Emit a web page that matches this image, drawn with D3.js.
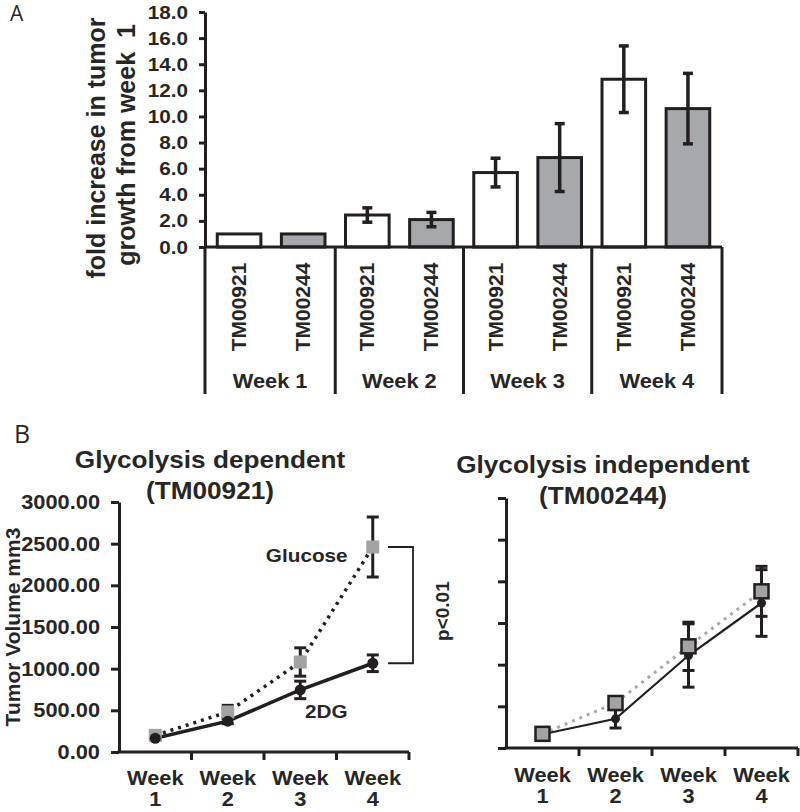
<!DOCTYPE html>
<html>
<head>
<meta charset="utf-8">
<script src="https://cdn.jsdelivr.net/npm/d3@7"></script>
<style>
  html, body { margin: 0; padding: 0; background: #fff; }
  svg { display: block; }
  text { font-family: "Liberation Sans", Arial, sans-serif; fill: #262626; }
</style>
</head>
<body>
<script>
// ---------------- DATA ----------------
const weeks = ["Week 1", "Week 2", "Week 3", "Week 4"];
const tumors = ["TM00921", "TM00244"];
const foldTM00921 = [1.0, 2.45, 5.7, 12.85];
const foldTM00921Err = [0.0, 0.55, 1.1, 2.55];
const foldTM00244 = [1.0, 2.1, 6.85, 10.6];
const foldTM00244Err = [0.0, 0.55, 2.6, 2.7];
const foldTicks = [0, 2, 4, 6, 8, 10, 12, 14, 16, 18];

const weekNums = ["1", "2", "3", "4"];
const volTicks = [0, 500, 1000, 1500, 2000, 2500, 3000];
const depGlucose = [200, 480, 1080, 2460];
const depGlucoseErr = [30, 80, 170, 360];
const dep2DG = [165, 370, 745, 1065];
const dep2DGErr = [20, 30, 105, 100];
const indGlucose = [170, 540, 1220, 1880];
const indGlucoseErr = [20, 60, 290, 300];
const ind2DG = [165, 350, 1110, 1740];
const ind2DGErr = [20, 110, 380, 400];

// ---------------- SETUP ----------------
const INK = "#231f20";
const BAR_GRAY = "#a7a8ab";
const STRETCH = 1.09;
const svg = d3.select("body").append("svg").attr("width", 800).attr("height", 812);
const horizontalTexts = [];

// panel letters
svg.append("text").attr("x", 10).attr("y", 21).style("font-family", "'Open Sans', 'DejaVu Sans', sans-serif")
  .style("font-size", "21px").text("A");
svg.append("text").attr("x", 14).attr("y", 443).style("font-family", "'Open Sans', 'DejaVu Sans', sans-serif")
  .style("font-size", "25px").text("B");

// ---------------- PANEL A ----------------
const bars = [];
weeks.forEach((w, i) => {
  bars.push({ key: w + "|" + tumors[0], week: w, tumor: tumors[0], v: foldTM00921[i], e: foldTM00921Err[i], fill: "#fff" });
  bars.push({ key: w + "|" + tumors[1], week: w, tumor: tumors[1], v: foldTM00244[i], e: foldTM00244Err[i], fill: BAR_GRAY });
});

const axisXA = 205;
const yA = d3.scaleLinear().domain([0, 18]).range([247, 12]);
const xA = d3.scaleBand().domain(bars.map(d => d.key)).range([207, 720]).paddingInner(0.32).paddingOuter(0.16);
const gA = svg.append("g");

// bars
gA.selectAll("rect.bar").data(bars).join("rect").attr("class", "bar")
  .attr("x", d => xA(d.key)).attr("width", xA.bandwidth())
  .attr("y", d => yA(d.v)).attr("height", d => yA(0) - yA(d.v))
  .attr("fill", d => d.fill).attr("stroke", INK).attr("stroke-width", 3);

// error bars
const ebA = gA.selectAll("g.eb").data(bars.filter(d => d.e > 0)).join("g").attr("class", "eb");
ebA.append("line")
  .attr("x1", d => xA(d.key) + xA.bandwidth() / 2).attr("x2", d => xA(d.key) + xA.bandwidth() / 2)
  .attr("y1", d => yA(d.v + d.e)).attr("y2", d => yA(d.v - d.e))
  .attr("stroke", INK).attr("stroke-width", 3.5);
[1, -1].forEach(s => {
  ebA.append("line")
    .attr("x1", d => xA(d.key) + xA.bandwidth() / 2 - 5).attr("x2", d => xA(d.key) + xA.bandwidth() / 2 + 5)
    .attr("y1", d => yA(d.v + s * d.e)).attr("y2", d => yA(d.v + s * d.e))
    .attr("stroke", INK).attr("stroke-width", 3.5);
});

// y axis
const yAxisA = gA.append("g").attr("transform", `translate(${axisXA},0)`)
  .call(d3.axisLeft(yA).tickValues(foldTicks).tickFormat(d3.format(".1f")).tickSize(6).tickSizeOuter(0).tickPadding(11));
yAxisA.select(".domain").attr("stroke", INK).attr("stroke-width", 3);
yAxisA.selectAll(".tick line").attr("stroke", INK).attr("stroke-width", 3);
yAxisA.selectAll(".tick text").style("font-size", "19px").style("font-weight", "bold").attr("fill", "#262626");
horizontalTexts.push(yAxisA.selectAll(".tick text"));

// x axis line
gA.append("line").attr("x1", axisXA).attr("x2", 722).attr("y1", yA(0)).attr("y2", yA(0))
  .attr("stroke", INK).attr("stroke-width", 3);

// group separators
const sepX = d3.range(5).map(i => i === 0 ? axisXA : (i === 4 ? 722 : xA.range()[0] + i * 2 * xA.step()));
gA.selectAll("line.sep").data(sepX).join("line").attr("class", "sep")
  .attr("x1", d => d).attr("x2", d => d).attr("y1", yA(0)).attr("y2", 394)
  .attr("stroke", INK).attr("stroke-width", 3);

// tumor labels (rotated)
gA.selectAll("text.tm").data(bars).join("text").attr("class", "tm")
  .attr("transform", d => `translate(${xA(d.key) + xA.bandwidth() / 2 + 7},307) rotate(-90)`)
  .attr("text-anchor", "middle")
  .style("font-size", "21px").style("font-weight", "bold")
  .text(d => d.tumor);

// week labels
horizontalTexts.push(gA.selectAll("text.wk").data(weeks).join("text").attr("class", "wk")
  .attr("x", (d, i) => (sepX[i] + sepX[i + 1]) / 2).attr("y", 388)
  .attr("text-anchor", "middle").style("font-size", "20px").style("font-weight", "bold")
  .text(d => d));

// y title
const yTitleA = gA.append("text").attr("transform", "translate(105,148) rotate(-90)")
  .attr("text-anchor", "middle").style("font-size", "25px").style("font-weight", "bold").style("white-space", "pre");
yTitleA.append("tspan").attr("x", 0).attr("dy", 0).text("fold increase in tumor");
yTitleA.append("tspan").attr("x", 3).attr("dy", 30).text("growth from week  1");

// ---------------- PANEL B ----------------
function linePanel(cfg) {
  const g = svg.append("g");
  const y = d3.scaleLinear().domain([0, 3000]).range([cfg.y0, cfg.y1]);
  const x = d3.scaleBand().domain(weekNums).range([cfg.x0, cfg.x1]);
  const cx = d => x(d) + x.bandwidth() / 2;

  // axes
  const ya = g.append("g").attr("transform", `translate(${cfg.x0},0)`)
    .call(d3.axisLeft(y).tickValues(volTicks).tickFormat(cfg.labels ? d3.format(".2f") : () => "")
      .tickSize(8).tickSizeOuter(0).tickPadding(11));
  ya.select(".domain").attr("stroke", INK).attr("stroke-width", 3);
  ya.selectAll(".tick line").attr("stroke", INK).attr("stroke-width", 3);
  ya.selectAll(".tick text").style("font-size", "20px").style("font-weight", "bold").attr("fill", "#262626");
  if (cfg.labels) horizontalTexts.push(ya.selectAll(".tick text"));

  g.append("line").attr("x1", cfg.x0 - 1.5).attr("x2", cfg.x1).attr("y1", y(0)).attr("y2", y(0))
    .attr("stroke", INK).attr("stroke-width", 3);
  g.selectAll("line.xt").data(weekNums).join("line").attr("class", "xt")
    .attr("x1", d => x(d) + x.bandwidth()).attr("x2", d => x(d) + x.bandwidth())
    .attr("y1", y(0)).attr("y2", y(0) + 8).attr("stroke", INK).attr("stroke-width", 3);

  const xl = g.selectAll("text.xl").data(weekNums).join("text").attr("class", "xl")
    .attr("text-anchor", "middle").style("font-size", "20px").style("font-weight", "bold");
  horizontalTexts.push(xl.append("tspan").attr("x", d => cx(d)).attr("y", cfg.labY).text("Week"));
  horizontalTexts.push(xl.append("tspan").attr("x", d => cx(d)).attr("y", cfg.labY + 21).text(d => d));

  // lines
  const line = vals => d3.line().x((d, i) => cx(weekNums[i])).y(d => y(d))(vals);
  g.append("path").attr("d", line(cfg.glu)).attr("fill", "none")
    .attr("stroke", cfg.gluLine).attr("stroke-width", cfg.dotW).attr("stroke-dasharray", "3,5");
  g.append("path").attr("d", line(cfg.dg)).attr("fill", "none")
    .attr("stroke", INK).attr("stroke-width", cfg.solidW);

  // error bars
  const eb = (vals, errs) => {
    const data = vals.map((v, i) => ({ k: weekNums[i], v, e: errs[i] }));
    const gg = g.append("g");
    gg.selectAll("line.v").data(data).join("line").attr("class", "v")
      .attr("x1", d => cx(d.k)).attr("x2", d => cx(d.k))
      .attr("y1", d => y(d.v + d.e)).attr("y2", d => y(d.v - d.e))
      .attr("stroke", INK).attr("stroke-width", 3);
    [1, -1].forEach((s, si) => {
      gg.selectAll("line.c" + si).data(data).join("line").attr("class", "c" + si)
        .attr("x1", d => cx(d.k) - 6).attr("x2", d => cx(d.k) + 6)
        .attr("y1", d => y(d.v + s * d.e)).attr("y2", d => y(d.v + s * d.e))
        .attr("stroke", INK).attr("stroke-width", 3);
    });
  };
  eb(cfg.glu, cfg.gluErr);
  eb(cfg.dg, cfg.dgErr);

  // markers
  g.selectAll("circle.m").data(cfg.dg).join("circle").attr("class", "m")
    .attr("cx", (d, i) => cx(weekNums[i])).attr("cy", d => y(d)).attr("r", cfg.r)
    .attr("fill", INK);
  g.selectAll("rect.m").data(cfg.glu).join("rect").attr("class", "m")
    .attr("x", (d, i) => cx(weekNums[i]) - cfg.sq / 2).attr("y", d => y(d) - cfg.sq / 2)
    .attr("width", cfg.sq).attr("height", cfg.sq)
    .attr("fill", "#a3a3a5").attr("stroke", cfg.sqStroke ? INK : "none").attr("stroke-width", cfg.sqStroke);
  if (cfg.dgOnTop) {
    g.selectAll("circle.m").raise();
  }

  // titles
  const t = g.append("text").attr("text-anchor", "middle").style("font-size", "24px").style("font-weight", "bold");
  horizontalTexts.push(t.append("tspan").attr("x", cfg.titleX).attr("y", cfg.titleY).text(cfg.title1));
  horizontalTexts.push(t.append("tspan").attr("x", cfg.titleX).attr("y", cfg.titleY + 31).text(cfg.title2));
  return { g, x, y, cx };
}

const left = linePanel({
  x0: 119, x1: 409, y0: 752, y1: 502, labels: true, labY: 785,
  glu: depGlucose, gluErr: depGlucoseErr, dg: dep2DG, dgErr: dep2DGErr,
  gluLine: INK, dotW: 3.5, solidW: 3.5, sq: 13, sqStroke: 0, r: 5.5, dgOnTop: true,
  title1: "Glycolysis dependent", title2: "(TM00921)", titleX: 210, titleY: 468
});
const right = linePanel({
  x0: 506, x1: 798, y0: 748, y1: 498, labels: false, labY: 782,
  glu: indGlucose, gluErr: indGlucoseErr, dg: ind2DG, dgErr: ind2DGErr,
  gluLine: "#a8a8a8", dotW: 3, solidW: 2.2, sq: 14, sqStroke: 2.5, r: 4.5, dgOnTop: false,
  title1: "Glycolysis independent", title2: "(TM00244)", titleX: 603, titleY: 473
});

// left y title
svg.append("text").attr("transform", "translate(20,627) rotate(-90)").attr("text-anchor", "middle")
  .style("font-size", "21px").style("font-weight", "bold").text("Tumor Volume mm3");

// series labels
horizontalTexts.push(svg.append("text").attr("x", left.cx("4") - 66).attr("y", left.y(depGlucose[3]) + 15).attr("text-anchor", "middle")
  .style("font-size", "19px").style("font-weight", "bold").text("Glucose"));
horizontalTexts.push(svg.append("text").attr("x", left.cx("3") + 26).attr("y", 718).attr("text-anchor", "middle")
  .style("font-size", "19px").style("font-weight", "bold").text("2DG"));

// significance bracket
const bTop = left.y(depGlucose[3]), bBot = left.y(dep2DG[3]);
svg.append("path").attr("d", `M388,${bTop}H413V${bBot}H388`).attr("fill", "none")
  .attr("stroke", INK).attr("stroke-width", 1.8);
svg.append("text").attr("transform", `translate(449,${(bTop + bBot) / 2 + 6}) rotate(-90)`).attr("text-anchor", "middle")
  .style("font-size", "19px").style("font-weight", "bold").text("p<0.01");

// horizontal widening of upright texts (the reference's lettering is slightly wide)
horizontalTexts.forEach(sel => sel.each(function () {
  const len = this.getComputedTextLength();
  if (len > 0) d3.select(this).attr("textLength", len * STRETCH).attr("lengthAdjust", "spacingAndGlyphs");
}));
</script>
</body>
</html>
